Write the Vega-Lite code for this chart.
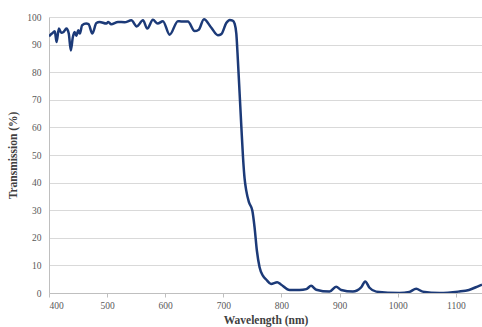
{
  "$schema": "https://vega.github.io/schema/vega-lite/v6.json",
  "autosize": "none",
  "padding": {"left": 49, "top": 17, "right": 0, "bottom": 34},
  "width": 433,
  "height": 276,
  "background": "white",
  "config": {"view": {"stroke": null}, "font": "'Liberation Serif', 'DejaVu Serif', serif"},
  "data": {"values": [
    {"nm": 400, "t": 93.0}, {"nm": 405, "t": 94.0}, {"nm": 410, "t": 94.8}, {"nm": 413, "t": 90.9},
    {"nm": 417, "t": 95.8}, {"nm": 421, "t": 94.3}, {"nm": 425, "t": 94.6}, {"nm": 430, "t": 95.8},
    {"nm": 434, "t": 94.0}, {"nm": 437.5, "t": 87.9}, {"nm": 441, "t": 92.7}, {"nm": 444, "t": 94.6},
    {"nm": 447, "t": 93.2}, {"nm": 450.5, "t": 95.2}, {"nm": 453, "t": 94.0}, {"nm": 457, "t": 97.0},
    {"nm": 464, "t": 97.6}, {"nm": 468, "t": 97.4}, {"nm": 474.6, "t": 94.0}, {"nm": 481.5, "t": 97.8},
    {"nm": 487, "t": 98.2}, {"nm": 498.7, "t": 97.6}, {"nm": 502, "t": 98.2}, {"nm": 507, "t": 97.4},
    {"nm": 518.7, "t": 98.2}, {"nm": 530, "t": 98.1}, {"nm": 541.7, "t": 98.8}, {"nm": 551, "t": 96.6},
    {"nm": 561.7, "t": 98.8}, {"nm": 569, "t": 95.8}, {"nm": 578.8, "t": 99.0}, {"nm": 587, "t": 97.6},
    {"nm": 596, "t": 98.5}, {"nm": 607.6, "t": 93.6}, {"nm": 621.8, "t": 98.5}, {"nm": 627.6, "t": 98.4},
    {"nm": 639, "t": 98.4}, {"nm": 650.5, "t": 94.9}, {"nm": 657.6, "t": 95.4}, {"nm": 666.6, "t": 99.2},
    {"nm": 679, "t": 96.2}, {"nm": 690.6, "t": 93.4}, {"nm": 696.4, "t": 93.8}, {"nm": 705, "t": 97.8},
    {"nm": 711, "t": 98.9}, {"nm": 716, "t": 98.7}, {"nm": 719.5, "t": 97.5}, {"nm": 722.3, "t": 94.0},
    {"nm": 725, "t": 84.3}, {"nm": 728, "t": 72.2}, {"nm": 731, "t": 60.0}, {"nm": 733.8, "t": 49.2},
    {"nm": 736.5, "t": 41.5}, {"nm": 739.4, "t": 37.1}, {"nm": 744, "t": 32.9}, {"nm": 749.8, "t": 29.9},
    {"nm": 753.7, "t": 23.8}, {"nm": 757.7, "t": 15.3}, {"nm": 762.3, "t": 9.3}, {"nm": 768, "t": 6.3},
    {"nm": 774, "t": 4.8}, {"nm": 782, "t": 3.3}, {"nm": 792.7, "t": 3.9}, {"nm": 799, "t": 3.1},
    {"nm": 814, "t": 1.1}, {"nm": 831, "t": 1.1}, {"nm": 842.7, "t": 1.4}, {"nm": 851, "t": 2.6},
    {"nm": 859.8, "t": 1.2}, {"nm": 882.7, "t": 0.5}, {"nm": 894, "t": 2.3}, {"nm": 902.8, "t": 1.1},
    {"nm": 922.8, "t": 0.5}, {"nm": 937, "t": 2.0}, {"nm": 944, "t": 4.2}, {"nm": 951.5, "t": 1.9},
    {"nm": 963, "t": 0.5}, {"nm": 1003, "t": 0.0}, {"nm": 1020, "t": 0.4}, {"nm": 1031.8, "t": 1.5},
    {"nm": 1043, "t": 0.5}, {"nm": 1072, "t": 0.0}, {"nm": 1104, "t": 0.5}, {"nm": 1122.6, "t": 1.1},
    {"nm": 1140, "t": 2.6}, {"nm": 1145, "t": 3.0}
  ]},
  "mark": {"type": "line", "interpolate": "monotone", "color": "#1c3a78", "strokeWidth": 2.5, "clip": true},
  "encoding": {
    "x": {
      "field": "nm", "type": "quantitative",
      "scale": {"domain": [400, 1145], "nice": false, "zero": false},
      "axis": {
        "title": "Wavelength (nm)", "values": [400, 500, 600, 700, 800, 900, 1000, 1100], "format": "d",
        "grid": false, "domainColor": "#bfbfbf", "tickColor": "#bfbfbf", "tickSize": 4,
        "labelFont": "'Liberation Serif', 'DejaVu Serif', serif", "labelFontSize": 9.5, "labelColor": "#595959", "labelPadding": 3,
        "titleFont": "'Liberation Serif', 'DejaVu Serif', serif", "titleFontSize": 11.5, "titleFontWeight": "bold", "titleColor": "#404040",
        "titlePadding": 5
      }
    },
    "y": {
      "field": "t", "type": "quantitative",
      "scale": {"domain": [0, 100], "nice": false},
      "axis": {
        "title": "Transmission (%)", "values": [0, 10, 20, 30, 40, 50, 60, 70, 80, 90, 100],
        "gridColor": "#d9d9d9", "gridWidth": 1, "domainColor": "#bfbfbf", "ticks": false,
        "labelFont": "'Liberation Serif', 'DejaVu Serif', serif", "labelFontSize": 9.5, "labelColor": "#595959", "labelPadding": 8,
        "titleFont": "'Liberation Serif', 'DejaVu Serif', serif", "titleFontSize": 11.5, "titleFontWeight": "bold", "titleColor": "#404040",
        "titlePadding": 8
      }
    }
  }
}
